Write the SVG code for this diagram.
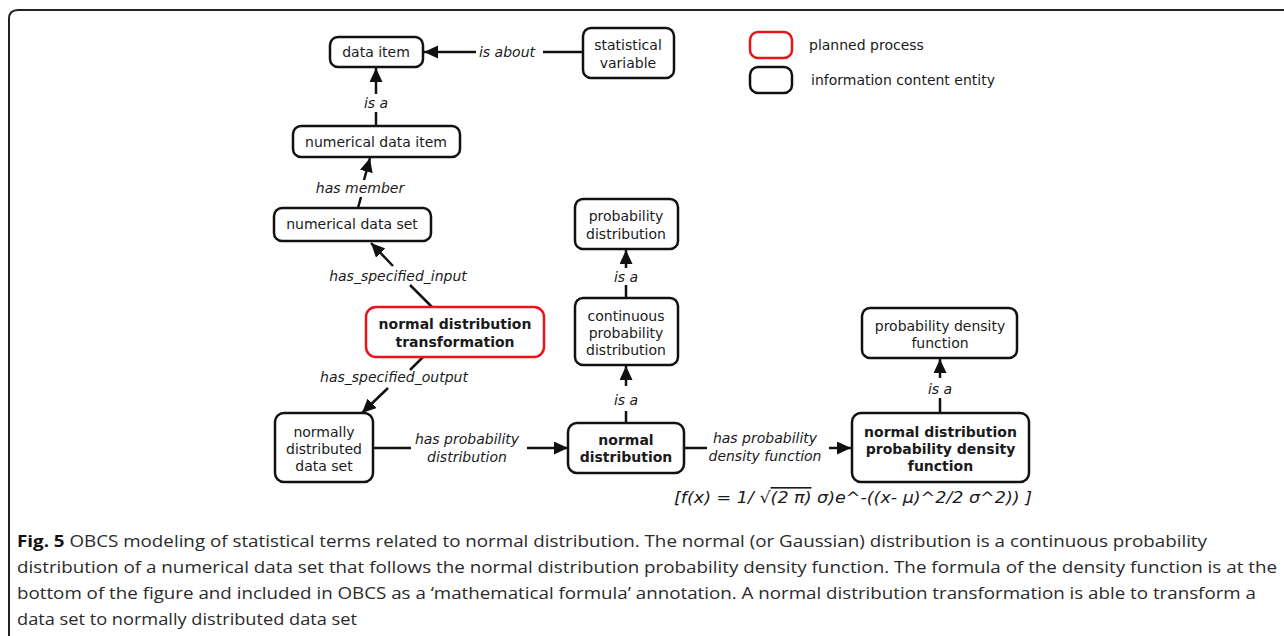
<svg xmlns="http://www.w3.org/2000/svg" width="1284" height="636" viewBox="0 0 1284 636">
  <style>
    .node rect { fill: #fff; stroke: #111; stroke-width: 2.5; }
    .node.process rect { stroke: #e8141b; }
    .node text, .legend text { font-family: "DejaVu Sans", Verdana, sans-serif; font-size: 14px; fill: #1a1a1a; text-anchor: middle; }
    .node.bold text { font-weight: bold; }
    .legend text { text-anchor: start; }
    .edge line { stroke: #111; stroke-width: 2.5; fill: none; }
    .edge text { font-family: "DejaVu Sans", Verdana, sans-serif; font-size: 14px; font-style: italic; fill: #1a1a1a; text-anchor: middle; }
    .formula { font-family: "DejaVu Sans", Verdana, sans-serif; font-size: 16px; font-style: italic; fill: #1a1a1a; }
    .caption { font-family: "Open Sans", "Liberation Sans", sans-serif; font-size: 16.5px; fill: #2a2a2a; }
    .caption .fig { font-weight: bold; fill: #111; }
  </style>
  <defs>
    <marker id="arrow" markerUnits="userSpaceOnUse" markerWidth="15" markerHeight="14" refX="14" refY="6.5" orient="auto">
      <path d="M0,0 L14,6.5 L0,13 z" fill="#111"/>
    </marker>
  </defs>

  <rect width="1284" height="636" fill="#fff"/>
  <!-- figure frame, open on the right and bottom -->
  <path d="M9,636 V19 Q9,10 18,10 H1284" fill="none" stroke="#222" stroke-width="2"/>

  <!-- legend -->
  <g id="legend" class="legend">
    <rect x="750" y="32" width="42" height="26" rx="8" fill="#fff" stroke="#e8141b" stroke-width="2.5"/>
    <rect x="750" y="67" width="42" height="26" rx="8" fill="#fff" stroke="#111" stroke-width="2.5"/>
    <text x="809" y="50">planned process</text>
    <text x="811" y="85">information content entity</text>
  </g>

  <!-- connectors -->
  <g id="connectors">
    <g class="edge" id="e-is-about">
      <line x1="583" y1="52" x2="543" y2="52"/>
      <line x1="476" y1="52" x2="424" y2="52" marker-end="url(#arrow)"/>
      <text x="507" y="57">is about</text>
    </g>
    <g class="edge" id="e-isa-1">
      <line x1="376" y1="126" x2="376" y2="112"/>
      <line x1="376" y1="94" x2="376" y2="68" marker-end="url(#arrow)"/>
      <text x="376" y="108">is a</text>
    </g>
    <g class="edge" id="e-has-member">
      <line x1="358" y1="208" x2="361" y2="197"/>
      <line x1="364" y1="180" x2="370" y2="158" marker-end="url(#arrow)"/>
      <text x="360" y="193">has member</text>
    </g>
    <g class="edge" id="e-input">
      <line x1="432" y1="307" x2="410" y2="285"/>
      <line x1="393" y1="266" x2="371" y2="243" marker-end="url(#arrow)"/>
      <text x="398" y="281">has_specified_input</text>
    </g>
    <g class="edge" id="e-output">
      <line x1="423" y1="357" x2="410" y2="370"/>
      <line x1="388" y1="388" x2="362" y2="413" marker-end="url(#arrow)"/>
      <text x="394" y="382">has_specified_output</text>
    </g>
    <g class="edge" id="e-has-pd">
      <line x1="373" y1="448" x2="411" y2="448"/>
      <line x1="527" y1="448" x2="568" y2="448" marker-end="url(#arrow)"/>
      <text x="467" y="444">has probability</text>
      <text x="467" y="462">distribution</text>
    </g>
    <g class="edge" id="e-isa-2">
      <line x1="626" y1="298" x2="626" y2="285"/>
      <line x1="626" y1="268" x2="626" y2="250" marker-end="url(#arrow)"/>
      <text x="626" y="282">is a</text>
    </g>
    <g class="edge" id="e-isa-3">
      <line x1="626" y1="423" x2="626" y2="411"/>
      <line x1="626" y1="386" x2="626" y2="366" marker-end="url(#arrow)"/>
      <text x="626" y="405">is a</text>
    </g>
    <g class="edge" id="e-has-pdf">
      <line x1="684" y1="448" x2="707" y2="448"/>
      <line x1="829" y1="448" x2="851" y2="448" marker-end="url(#arrow)"/>
      <text x="765" y="443">has probability</text>
      <text x="765" y="461">density function</text>
    </g>
    <g class="edge" id="e-isa-4">
      <line x1="940" y1="413" x2="940" y2="398"/>
      <line x1="940" y1="378" x2="940" y2="359" marker-end="url(#arrow)"/>
      <text x="940" y="394">is a</text>
    </g>
  </g>

  <!-- nodes -->
  <g id="data-item" class="node">
    <rect x="330" y="37" width="93" height="30" rx="8"/>
    <text x="376" y="57">data item</text>
  </g>
  <g id="statistical-variable" class="node">
    <rect x="583" y="28" width="91" height="50" rx="8"/>
    <text x="628" y="50">statistical</text>
    <text x="628" y="68">variable</text>
  </g>
  <g id="numerical-data-item" class="node">
    <rect x="293" y="126" width="167" height="31" rx="8"/>
    <text x="376" y="147">numerical data item</text>
  </g>
  <g id="numerical-data-set" class="node">
    <rect x="274" y="208" width="157" height="33" rx="8"/>
    <text x="352" y="229">numerical data set</text>
  </g>
  <g id="normal-distribution-transformation" class="node process bold">
    <rect x="366" y="307" width="178" height="50" rx="10"/>
    <text x="455" y="329">normal distribution</text>
    <text x="455" y="347">transformation</text>
  </g>
  <g id="normally-distributed-data-set" class="node">
    <rect x="275" y="413" width="98" height="69" rx="9"/>
    <text x="324" y="437">normally</text>
    <text x="324" y="454">distributed</text>
    <text x="324" y="471">data set</text>
  </g>
  <g id="probability-distribution" class="node">
    <rect x="575" y="199" width="103" height="50" rx="8"/>
    <text x="626" y="221">probability</text>
    <text x="626" y="239">distribution</text>
  </g>
  <g id="continuous-probability-distribution" class="node">
    <rect x="575" y="298" width="103" height="67" rx="8"/>
    <text x="626" y="321">continuous</text>
    <text x="626" y="338">probability</text>
    <text x="626" y="355">distribution</text>
  </g>
  <g id="normal-distribution" class="node bold">
    <rect x="568" y="423" width="116" height="50" rx="9"/>
    <text x="626" y="445">normal</text>
    <text x="626" y="462">distribution</text>
  </g>
  <g id="probability-density-function" class="node">
    <rect x="862" y="308" width="155" height="50" rx="8"/>
    <text x="940" y="331">probability density</text>
    <text x="940" y="348">function</text>
  </g>
  <g id="normal-distribution-pdf" class="node bold">
    <rect x="852" y="413" width="177" height="69" rx="9"/>
    <text x="940.5" y="437">normal distribution</text>
    <text x="940.5" y="454">probability density</text>
    <text x="940.5" y="471">function</text>
  </g>

  <!-- density formula annotation -->
  <text class="formula" x="674" y="503" textLength="358" lengthAdjust="spacingAndGlyphs">[f(x) = 1/ √<tspan text-decoration="overline">(2 π)</tspan>  σ)e^-((x- μ)^2/2 σ^2)) ]</text>

  <!-- caption -->
  <g id="caption" class="caption">
    <text x="17" y="547" textLength="1190" lengthAdjust="spacingAndGlyphs"><tspan class="fig">Fig. 5</tspan> OBCS modeling of statistical terms related to normal distribution. The normal (or Gaussian) distribution is a continuous probability</text>
    <text x="17" y="573" textLength="1260" lengthAdjust="spacingAndGlyphs">distribution of a numerical data set that follows the normal distribution probability density function. The formula of the density function is at the</text>
    <text x="17" y="599" textLength="1239" lengthAdjust="spacingAndGlyphs">bottom of the figure and included in OBCS as a ‘mathematical formula’ annotation. A normal distribution transformation is able to transform a</text>
    <text x="17" y="625" textLength="340" lengthAdjust="spacingAndGlyphs">data set to normally distributed data set</text>
  </g>
</svg>
